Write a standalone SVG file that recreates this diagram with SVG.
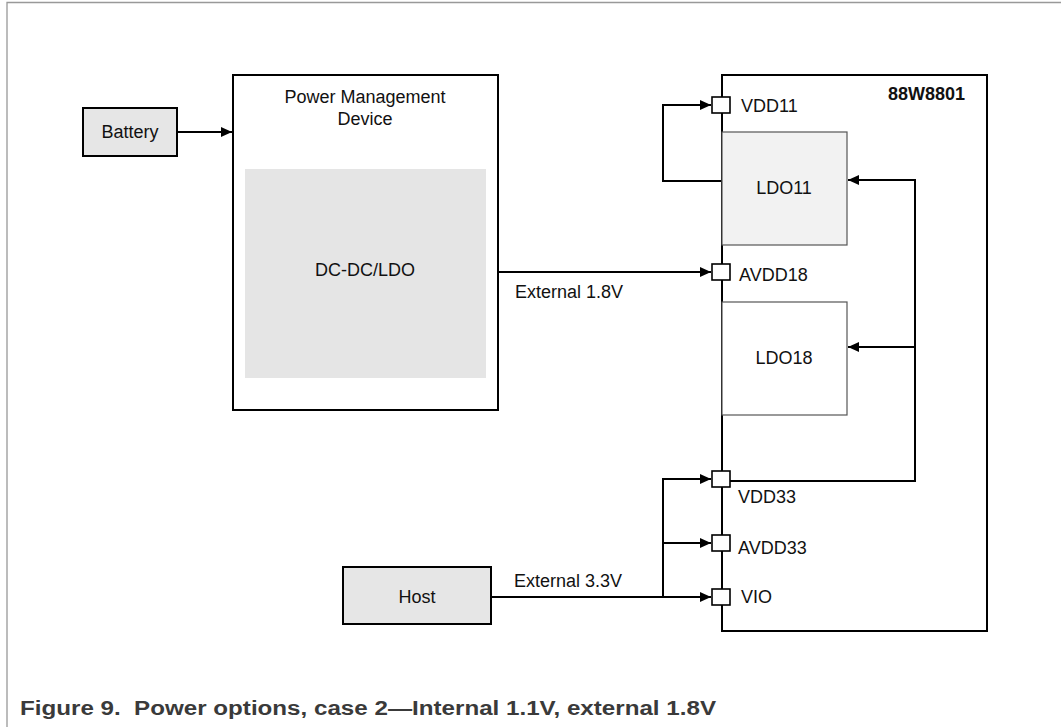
<svg xmlns="http://www.w3.org/2000/svg" width="1061" height="727" viewBox="0 0 1061 727">
  <defs>
    <marker id="arr" markerUnits="userSpaceOnUse" markerWidth="12" markerHeight="11" refX="11" refY="5" orient="auto">
      <path d="M0,0 L11,5 L0,10 z" fill="#000"/>
    </marker>
    <style>
      .lbl { font-family: "Liberation Sans", Arial, sans-serif; font-size: 18px; fill: #111; }
      .ctr { text-anchor: middle; }
      .bold { font-weight: bold; }
      .conn { fill: none; stroke: #000; stroke-width: 2; }
      .pin { fill: #fff; stroke: #000; stroke-width: 1.6; }
      .ext { fill: #e6e6e6; stroke: #000; stroke-width: 2; }
      .ldo { stroke: #555; stroke-width: 1.2; }
    </style>
  </defs>
  <rect x="0" y="0" width="1061" height="727" fill="#fff"/>
  <path d="M7,727 V2.5 H1061" fill="none" stroke="#999" stroke-width="1.3"/>

  <g id="connectors">
    <path class="conn" d="M177,132 H232" marker-end="url(#arr)"/>
    <path class="conn" d="M498,272 H711" marker-end="url(#arr)"/>
    <path class="conn" d="M722,181 H663 V105 H711" marker-end="url(#arr)"/>
    <path class="conn" d="M730,481 H915 V180 H848" marker-end="url(#arr)"/>
    <path class="conn" d="M915,347 H848" marker-end="url(#arr)"/>
    <path class="conn" d="M491,597 H711" marker-end="url(#arr)"/>
    <path class="conn" d="M663,597 V479 H711" marker-end="url(#arr)"/>
    <path class="conn" d="M663,543 H711" marker-end="url(#arr)"/>
    <text class="lbl" x="515" y="298">External 1.8V</text>
    <text class="lbl" x="514" y="587">External 3.3V</text>
  </g>

  <g id="battery">
    <rect class="ext" x="83" y="108" width="94" height="48"/>
    <text class="lbl ctr" x="130" y="138">Battery</text>
  </g>

  <g id="pmd">
    <rect x="233" y="75" width="265" height="335" fill="#fff" stroke="#000" stroke-width="2"/>
    <text class="lbl ctr" x="365" y="103">Power Management</text>
    <text class="lbl ctr" x="365" y="125">Device</text>
    <g id="dcdc">
      <rect x="245" y="169" width="241" height="209" fill="#e5e5e5"/>
      <text class="lbl ctr" x="365" y="276">DC-DC/LDO</text>
    </g>
  </g>

  <g id="host">
    <rect class="ext" x="343" y="567" width="148" height="57"/>
    <text class="lbl ctr" x="417" y="603">Host</text>
  </g>

  <g id="chip">
    <rect x="722" y="75" width="265" height="556" fill="none" stroke="#000" stroke-width="2"/>
    <text class="lbl bold" x="888" y="100">88W8801</text>
  </g>

  <g id="ldo11">
    <rect class="ldo" x="722" y="132" width="125" height="113" fill="#f2f2f2"/>
    <text class="lbl ctr" x="784" y="194">LDO11</text>
  </g>

  <g id="ldo18">
    <rect class="ldo" x="722" y="302" width="125" height="113" fill="#fff"/>
    <text class="lbl ctr" x="784" y="364">LDO18</text>
  </g>

  <g id="pin-vdd11">
    <rect class="pin" x="712" y="97" width="18" height="16"/>
    <text class="lbl" x="741" y="112">VDD11</text>
  </g>
  <g id="pin-avdd18">
    <rect class="pin" x="712" y="264" width="18" height="16"/>
    <text class="lbl" x="739" y="281">AVDD18</text>
  </g>
  <g id="pin-vdd33">
    <rect class="pin" x="712" y="471" width="18" height="16"/>
    <text class="lbl" x="738" y="503">VDD33</text>
  </g>
  <g id="pin-avdd33">
    <rect class="pin" x="712" y="535" width="18" height="16"/>
    <text class="lbl" x="738" y="554">AVDD33</text>
  </g>
  <g id="pin-vio">
    <rect class="pin" x="712" y="589" width="18" height="16"/>
    <text class="lbl" x="741" y="603">VIO</text>
  </g>

  <g id="caption">
    <text x="20" y="715" xml:space="preserve" textLength="696" lengthAdjust="spacingAndGlyphs" font-family="'Liberation Sans', Arial, sans-serif" font-size="20" font-weight="bold" fill="#3a3a3a" style="white-space:pre">Figure 9.  Power options, case 2—Internal 1.1V, external 1.8V</text>
  </g>
</svg>
